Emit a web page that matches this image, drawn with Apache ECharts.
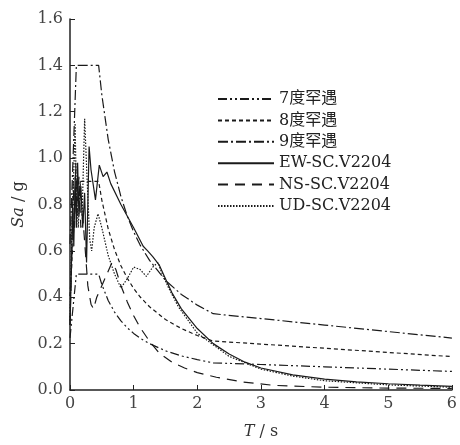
<!DOCTYPE html>
<html>
<head>
<meta charset="utf-8">
<script src="https://cdn.jsdelivr.net/npm/echarts@6/dist/echarts.min.js"></script>
<style>
  html, body { margin: 0; padding: 0; background: #fff; }
  #chart { width: 460px; height: 445px; }
</style>
</head>
<body>
<div id="chart"></div>
<script>
  // design spectra periods (s)
  const designT = [0, 0.1, 0.45, 0.5, 0.6, 0.7, 0.8, 0.9, 1.0, 1.1, 1.25, 1.5, 1.75, 2.0, 2.25, 3, 4, 5, 6]
  const sa7 = [0.225, 0.5, 0.5, 0.455, 0.386, 0.336, 0.298, 0.268, 0.244, 0.224, 0.200, 0.169, 0.147, 0.131, 0.117, 0.110, 0.100, 0.090, 0.080]
  const sa8 = [0.405, 0.9, 0.9, 0.819, 0.695, 0.605, 0.536, 0.482, 0.438, 0.402, 0.359, 0.304, 0.265, 0.235, 0.211, 0.198, 0.180, 0.162, 0.144]
  const sa9 = [0.63, 1.4, 1.4, 1.273, 1.081, 0.941, 0.834, 0.750, 0.682, 0.626, 0.559, 0.473, 0.412, 0.366, 0.329, 0.308, 0.280, 0.252, 0.224]

  // recorded spectra
  const tEW = [0, 0.02, 0.04, 0.06, 0.08, 0.1, 0.12, 0.14, 0.17, 0.2, 0.23, 0.26, 0.3, 0.33, 0.4, 0.46, 0.52, 0.58, 0.64, 0.8, 1.0, 1.15, 1.22, 1.3, 1.4, 1.5, 1.6, 1.75, 2.0, 2.25, 2.5, 2.75, 3.0, 3.5, 4, 4.5, 5, 5.5, 6]
  const saEW = [0.28, 0.5, 0.8, 0.62, 0.92, 0.7, 0.98, 0.75, 0.88, 0.7, 0.85, 0.55, 1.05, 0.95, 0.82, 0.97, 0.92, 0.94, 0.89, 0.8, 0.7, 0.62, 0.6, 0.575, 0.54, 0.48, 0.42, 0.35, 0.265, 0.2, 0.155, 0.12, 0.095, 0.065, 0.047, 0.035, 0.027, 0.021, 0.016]
  const tNS = [0, 0.03, 0.05, 0.07, 0.09, 0.11, 0.14, 0.17, 0.2, 0.23, 0.28, 0.33, 0.37, 0.42, 0.5, 0.58, 0.66, 0.72, 0.8, 0.9, 1.0, 1.1, 1.25, 1.4, 1.6, 1.8, 2.0, 2.3, 2.7, 3.2, 4, 5, 6]
  const saNS = [0.28, 0.6, 0.9, 0.7, 0.98, 0.75, 0.92, 0.7, 0.75, 0.64, 0.45, 0.37, 0.35, 0.4, 0.45, 0.5, 0.55, 0.52, 0.45, 0.38, 0.32, 0.27, 0.21, 0.16, 0.12, 0.095, 0.075, 0.055, 0.035, 0.02, 0.012, 0.008, 0.007]
  const tUD = [0, 0.03, 0.06, 0.08, 0.1, 0.13, 0.16, 0.19, 0.23, 0.27, 0.31, 0.34, 0.38, 0.44, 0.5, 0.6, 0.7, 0.8, 0.9, 1.0, 1.1, 1.2, 1.3, 1.38, 1.45, 1.55, 1.7, 2.0, 2.5, 3.0, 3.5, 4, 5, 6]
  const saUD = [0.3, 0.7, 0.95, 1.15, 0.85, 0.7, 0.9, 0.75, 1.17, 0.9, 0.65, 0.6, 0.7, 0.76, 0.7, 0.58, 0.5, 0.44, 0.48, 0.53, 0.52, 0.49, 0.53, 0.55, 0.5, 0.44, 0.36, 0.245, 0.145, 0.09, 0.06, 0.04, 0.022, 0.012]

  const serif = '"DejaVu Serif", "Noto Sans CJK SC", serif'
  const pairs = (xs, ys) => xs.map((x, i) => [x, ys[i]])

  function line(name, xs, ys, dash) {
    return {
      name: name,
      type: 'line',
      data: pairs(xs, ys),
      symbol: 'none',
      showSymbol: false,
      lineStyle: { color: '#1a1a1a', width: 1.2, type: dash },
      itemStyle: { color: '#1a1a1a' }
    }
  }

  let chart = echarts.init(document.getElementById('chart'))
  let option = {
    animation: false,
    grid: { left: 70, right: 6, top: 19, bottom: 47 },
    legend: {
      orient: 'vertical',
      left: 212,
      top: 86,
      itemWidth: 56,
      itemHeight: 10,
      itemGap: 5.4,
      itemStyle: { opacity: 0 },
      textStyle: { fontFamily: serif, fontSize: 16, color: '#222', lineHeight: 15 },
      data: ['7度罕遇', '8度罕遇', '9度罕遇', 'EW-SC.V2204', 'NS-SC.V2204', 'UD-SC.V2204']
    },
    xAxis: {
      type: 'value',
      min: 0,
      max: 6,
      interval: 1,
      name: '{i|T} / s',
      nameLocation: 'middle',
      nameGap: 34,
      nameTextStyle: { fontFamily: serif, fontSize: 16, color: '#333', rich: { i: { fontFamily: serif, fontSize: 16, fontStyle: 'italic', color: '#333' } } },
      axisLine: { lineStyle: { color: '#222', width: 1.5 } },
      axisTick: { inside: true, length: 5, lineStyle: { color: '#222' } },
      axisLabel: { fontFamily: serif, fontSize: 16, color: '#444', margin: 6 },
      splitLine: { show: false }
    },
    yAxis: {
      type: 'value',
      min: 0,
      max: 1.6,
      interval: 0.2,
      name: '{i|Sa} / g',
      nameLocation: 'middle',
      nameGap: 42,
      nameRotate: 90,
      nameTextStyle: { fontFamily: serif, fontSize: 16, color: '#333', rich: { i: { fontFamily: serif, fontSize: 16, fontStyle: 'italic', color: '#333' } } },
      axisLine: { show: true, lineStyle: { color: '#222', width: 1.5 } },
      axisTick: { show: true, inside: true, length: 5, lineStyle: { color: '#222' } },
      axisLabel: { fontFamily: serif, fontSize: 16, color: '#444', margin: 7, formatter: v => v.toFixed(1) },
      splitLine: { show: false }
    },
    series: [
      line('7度罕遇', designT, sa7, [9, 3, 2, 3, 2, 3]),
      line('8度罕遇', designT, sa8, [4, 3]),
      line('9度罕遇', designT, sa9, [10, 3, 2, 3]),
      line('EW-SC.V2204', tEW, saEW, 'solid'),
      line('NS-SC.V2204', tNS, saNS, [10, 7]),
      line('UD-SC.V2204', tUD, saUD, [1.5, 1.5])
    ]
  }
  chart.setOption(option)
</script>
</body>
</html>
